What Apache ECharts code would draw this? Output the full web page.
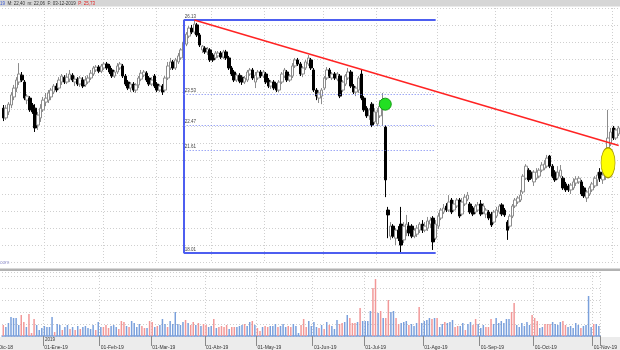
<!DOCTYPE html>
<html>
<head>
<meta charset="utf-8">
<script src="https://cdn.jsdelivr.net/npm/echarts@6/dist/echarts.min.js"></script>
<style>
html, body { margin: 0; padding: 0; background: #fff; }
#main { width: 620px; height: 350px; }
</style>
</head>
<body>
<div id="main"></div>
<script>
// velas diarias: [apertura, cierre, minimo, maximo]
var velas = [
    [23.06,22.72,22.61,23.17],[22.72,23.06,22.65,23.17],[22.93,23.20,22.82,23.27],[23.17,23.52,23.06,23.62],[23.45,23.76,23.34,23.87],
    [23.76,24.04,23.62,24.14],[23.97,24.25,23.87,24.63],[24.21,24.04,23.97,24.32],[23.97,23.41,23.34,24.04],[23.34,23.48,23.20,23.55],
    [23.41,23.00,22.93,23.48],[23.17,22.93,22.86,23.24],[23.06,22.37,22.23,23.20],[22.47,22.82,22.30,22.93],[22.72,23.06,22.58,23.20],
    [23.00,23.34,22.93,23.45],[23.27,23.41,23.13,23.59],[23.34,23.59,23.24,23.69],[23.45,23.69,23.34,23.76],[23.62,23.83,23.55,23.90],
    [23.83,23.69,23.62,23.93],[23.76,24.04,23.69,24.14],[23.97,24.18,23.87,24.25],[24.14,23.97,23.90,24.21],[23.97,24.14,23.90,24.28],
    [24.07,24.25,23.97,24.39],[24.21,24.04,23.97,24.28],[23.97,24.07,23.83,24.18],[24.07,23.90,23.83,24.14],[23.90,24.11,23.80,24.18],
    [24.04,23.83,23.76,24.14],[23.87,24.04,23.80,24.18],[23.97,24.11,23.90,24.21],[24.11,24.28,24.04,24.39],[24.25,24.46,24.18,24.53],
    [24.39,24.49,24.32,24.56],[24.49,24.35,24.28,24.56],[24.35,24.53,24.28,24.60],[24.46,24.60,24.39,24.67],[24.60,24.46,24.39,24.67],
    [24.53,24.32,24.25,24.60],[24.39,24.18,24.11,24.46],[24.18,24.32,24.11,24.39],[24.32,24.53,24.25,24.63],[24.46,24.60,24.39,24.67],
    [24.53,24.18,24.11,24.60],[24.18,23.90,23.83,24.25],[23.97,23.76,23.69,24.04],[23.76,23.90,23.62,23.97],[23.90,23.69,23.62,23.97],
    [23.69,23.87,23.59,23.93],[23.87,24.11,23.76,24.18],[24.07,24.28,24.00,24.39],[24.21,24.32,24.14,24.39],[24.28,24.04,23.97,24.35],
    [24.11,23.90,23.83,24.18],[23.90,24.04,23.83,24.14],[24.18,23.83,23.76,24.25],[23.90,23.69,23.62,23.97],[23.69,23.83,23.62,23.90],
    [23.83,23.62,23.52,23.90],[23.69,24.11,23.62,24.18],[24.11,24.53,24.04,24.67],[24.46,24.67,24.39,24.81],[24.67,24.46,24.39,24.74],
    [24.46,24.74,24.39,24.81],[24.67,24.88,24.60,24.98],[24.81,25.09,24.74,25.15],[25.02,25.36,24.95,25.43],[25.29,25.64,25.22,25.71],
    [25.57,25.85,25.50,25.92],[25.85,25.71,25.64,25.96],[25.71,25.99,25.64,26.13],[25.96,25.61,25.54,26.03],[25.61,25.26,25.19,25.68],
    [25.09,25.22,24.98,25.26],[25.15,25.02,24.95,25.22],[25.02,25.12,24.91,25.19],[25.09,24.74,24.67,25.15],[24.91,24.74,24.67,24.98],
    [24.81,24.98,24.74,25.05],[24.88,24.98,24.81,25.05],[24.98,24.84,24.77,25.05],[24.84,25.02,24.77,25.09],[25.02,24.81,24.74,25.09],
    [24.81,24.46,24.39,24.88],[24.46,24.25,24.18,24.53],[24.32,24.04,23.97,24.39],[24.04,24.21,23.97,24.28],[24.21,24.00,23.93,24.28],
    [24.14,23.97,23.87,24.21],[23.97,24.11,23.90,24.18],[24.04,24.32,23.97,24.39],[24.25,24.39,24.18,24.46],[24.39,24.11,24.04,24.46],
    [23.97,24.21,23.76,24.32],[24.11,24.32,24.04,24.39],[24.32,24.18,24.11,24.39],[24.18,24.32,24.11,24.39],[24.25,23.97,23.90,24.32],
    [24.04,23.83,23.76,24.11],[23.83,23.97,23.73,24.04],[23.97,23.76,23.69,24.04],[23.87,23.69,23.62,23.93],[23.69,23.97,23.62,24.04],
    [23.97,24.25,23.90,24.32],[24.18,24.39,24.11,24.46],[24.32,24.04,23.97,24.39],[24.04,24.18,23.97,24.25],[24.18,24.53,24.11,24.63],
    [24.53,24.74,24.46,24.81],[24.74,24.60,24.53,24.81],[24.60,24.25,24.18,24.67],[24.25,24.46,24.14,24.53],[24.46,24.67,24.39,24.74],
    [24.60,24.81,24.53,24.91],[24.74,24.46,24.39,24.81],[24.39,23.69,23.62,24.46],[23.69,23.48,23.34,23.76],[23.41,23.59,23.24,23.69],
    [23.48,23.69,23.20,23.76],[23.76,24.11,23.69,24.18],[24.11,24.39,24.04,24.49],[24.39,24.18,24.11,24.46],[24.11,24.25,24.04,24.32],
    [24.25,24.11,24.04,24.32],[24.07,24.25,24.00,24.32],[24.18,23.48,23.41,24.25],[23.69,23.97,23.62,24.04],[23.90,24.18,23.83,24.25],
    [24.11,24.32,24.04,24.46],[24.32,23.83,23.76,24.39],[23.83,23.62,23.55,23.90],[23.62,23.76,23.48,23.83],[23.69,24.11,23.59,24.18],
    [24.25,23.41,23.34,24.39],[23.41,23.00,22.93,23.48],[23.06,22.79,22.72,23.13],[22.79,23.00,22.65,23.06],[23.20,22.47,22.40,23.27],
    [22.58,22.93,22.51,23.06],[22.51,22.93,22.44,23.06],[22.79,23.13,22.72,23.34],[23.00,23.20,22.44,23.59],[22.40,20.56,19.96,22.47],
    [19.51,19.34,18.53,19.62],[18.60,18.95,18.47,19.09],[18.95,18.60,18.53,19.02],[18.53,18.81,18.29,18.88],[18.81,18.53,18.43,18.95],
    [19.02,18.29,18.01,19.62],[18.47,18.95,18.36,19.09],[18.81,19.02,18.60,19.34],[18.95,18.71,18.60,19.09],[18.95,18.60,18.53,19.02],
    [18.60,18.81,18.53,18.88],[18.67,18.88,18.57,18.99],[18.81,19.02,18.71,19.09],[19.02,18.81,18.71,19.16],[18.81,18.95,18.74,19.09],
    [18.88,19.13,18.78,19.27],[19.02,19.16,18.88,19.27],[19.23,18.40,18.12,19.30],[18.53,19.02,18.47,19.16],[18.95,19.30,18.85,19.41],
    [19.23,19.51,19.16,19.58],[19.44,19.58,19.37,19.72],[19.65,19.51,19.44,19.75],[19.51,19.79,19.44,20.03],[19.86,19.44,19.37,19.93],
    [19.51,19.72,19.44,19.86],[19.65,19.86,19.58,19.93],[19.86,19.30,19.23,19.93],[19.37,19.79,19.30,19.93],[19.72,19.96,19.65,20.07],
    [19.89,20.03,19.82,20.14],[19.72,19.44,19.37,19.79],[19.58,19.37,19.30,19.65],[19.44,19.65,19.37,19.72],[19.51,19.69,19.44,19.79],
    [19.72,19.37,19.30,19.86],[19.44,19.65,19.37,19.75],[19.37,19.51,19.23,19.58],[19.44,19.23,19.16,19.51],[19.37,18.99,18.92,19.44],
    [19.09,19.44,19.02,19.51],[19.30,19.51,19.23,19.62],[19.44,19.65,19.37,19.72],[19.69,19.37,19.30,19.75],[19.51,19.34,19.27,19.58],
    [19.09,18.81,18.47,19.16],[18.95,19.30,18.88,19.37],[19.30,19.65,19.23,19.72],[19.65,19.86,19.58,19.93],[19.79,19.93,19.72,20.00],
    [19.86,20.03,19.79,20.21],[20.14,20.69,20.07,20.76],[20.62,21.04,20.56,21.11],[20.90,20.56,20.49,20.97],[20.83,20.62,20.56,20.90],
    [20.49,20.83,20.35,20.90],[20.62,20.83,20.56,20.97],[20.69,20.90,20.62,20.97],[20.90,21.08,20.83,21.18],[20.97,21.11,20.90,21.25],
    [21.04,21.32,20.97,21.43],[21.39,21.04,20.97,21.43],[21.04,20.69,20.62,21.11],[20.83,20.56,20.49,20.90],[20.62,20.83,20.56,21.04],
    [20.69,20.90,20.62,21.08],[20.62,20.28,20.21,20.69],[20.42,20.21,20.14,20.49],[20.35,20.21,20.14,20.42],[20.21,20.38,20.07,20.45],
    [20.28,20.49,20.21,20.62],[20.45,20.59,20.35,20.69],[20.49,20.62,20.42,20.69],[20.49,20.07,20.00,20.56],[20.28,20.00,19.93,20.35],
    [19.93,20.14,19.79,20.21],[20.07,20.28,20.00,20.35],[20.21,20.42,20.14,20.49],[20.35,20.62,20.28,20.69],[20.56,20.73,20.35,20.83],
    [20.83,20.62,20.49,20.97],[20.56,20.73,20.42,20.83],[20.69,20.97,20.56,21.08],[20.90,22.02,20.69,23.00],[21.81,22.23,21.74,22.37],
    [22.37,22.02,21.95,22.44],[22.02,22.30,21.95,22.37],[22.16,22.37,22.09,22.44]
];
var volumen = [
    11, 9, 13, 19, 18, 18, 11, 21, 14, 9, 22, 3, 17, 11, 6, 8, 10, 9, 9, 19,
    4, 12, 11, 6, 9, 11, 7, 9, 6, 10, 7, 9, 10, 8, 7, 11, 6, 14, 9, 9,
    11, 8, 10, 11, 9, 7, 15, 14, 10, 9, 15, 13, 9, 12, 10, 8, 8, 15, 14, 9,
    10, 11, 17, 12, 9, 15, 12, 24, 12, 11, 14, 16, 13, 11, 14, 11, 13, 10, 12, 11,
    9, 10, 17, 8, 9, 10, 9, 11, 7, 9, 9, 9, 10, 11, 12, 10, 14, 15, 11, 8,
    5, 9, 10, 9, 10, 10, 12, 9, 10, 12, 9, 10, 9, 12, 10, 3, 11, 17, 9, 15,
    10, 14, 9, 8, 11, 7, 14, 11, 10, 7, 16, 12, 13, 14, 21, 18, 13, 13, 14, 28,
    15, 15, 15, 25, 48, 57, 23, 25, 18, 18, 36, 24, 25, 18, 12, 13, 14, 15, 11, 12,
    10, 13, 29, 13, 15, 16, 18, 17, 18, 18, 9, 12, 14, 13, 14, 16, 9, 10, 10, 13,
    6, 12, 14, 11, 17, 12, 8, 11, 9, 9, 17, 12, 18, 13, 15, 13, 17, 17, 24, 33,
    11, 9, 13, 10, 14, 11, 21, 18, 15, 8, 9, 12, 12, 12, 14, 12, 11, 14, 15, 11,
    9, 10, 8, 13, 11, 8, 10, 11, 40, 9, 12, 12, 10
];
// primer dia de cada mes (posicion en la serie) y su etiqueta
var mesesIdx = [16, 38, 58, 79, 99, 121, 141, 164, 186, 207, 230];
var mesesTxt = ['01-Ene-19', '01-Feb-19', '01-Mar-19', '01-Abr-19', '01-May-19', '01-Jun-19',
    '01-Jul-19', '01-Ago-19', '01-Sep-19', '01-Oct-19', '01-Nov-19'];
// retroceso dibujado (niveles) y su tramo
var niveles = [26.13, 23.53, 22.47, 21.61, 18.01];
var nivelDesde = 68, nivelHasta = 163;
// directriz bajista
var directriz = [[72, 26.13], [232, 21.76]];
var marcaVerde = [144, 23.20];
var marcaAmarilla = [228, 21.16];

var dias = velas.map(function (v, i) { return i; });

function esMes(index) {
    return mesesIdx.indexOf(index) !== -1;
}

var azul = '#4d5ef0';
var lineas = [];
// lado izquierdo del marco
lineas.push([
    {coord: [nivelDesde, niveles[0]], lineStyle: {color: azul, width: 2, type: 'solid'}, label: {show: false}},
    {coord: [nivelDesde, niveles[niveles.length - 1]]}
]);
niveles.forEach(function (v, i) {
    var borde = (i == 0 || i == niveles.length - 1);
    lineas.push([
        {
            coord: [nivelDesde, v],
            lineStyle: borde ? {color: azul, width: 2, type: 'solid'} : {color: '#6f7ff2', width: 1, type: [1, 2]},
            label: {show: true, position: 'insideStartTop', formatter: v.toFixed(2), fontSize: 4.5, color: '#444', distance: 1, padding: 0}
        },
        {coord: [nivelHasta, v]}
    ]);
});
lineas.push([
    {coord: directriz[0], lineStyle: {color: '#ff2323', width: 1.5, type: 'solid'}, label: {show: false}},
    {coord: directriz[1]}
]);

// azul si la vela sube, rojo si baja
var volData = volumen.map(function (v, i) {
    var sube = velas[i][1] >= velas[i][0];
    return {value: v, itemStyle: {color: sube ? '#7aa0dc' : '#f29898'}};
});

var grid = '#cfcfcf';
var chart = echarts.init(document.getElementById('main'));
var option = {
    animation: false,
    backgroundColor: '#fff',
    grid: [
        {left: 2, width: 621, top: 8, height: 254},
        {left: 2, width: 621, top: 272, height: 64}
    ],
    xAxis: [
        {
            type: 'category', gridIndex: 0, data: dias, boundaryGap: true,
            axisLine: {show: false}, axisTick: {show: false}, axisLabel: {show: false},
            splitLine: {show: true, interval: function (index) { return esMes(index); },
                lineStyle: {color: grid, type: [1, 2]}}
        },
        {
            type: 'category', gridIndex: 1, data: dias, boundaryGap: true,
            axisLine: {show: true, lineStyle: {color: '#7d9fd8', width: 1.5}},
            axisTick: {show: true, length: 10, interval: function (index) { return esMes(index); },
                lineStyle: {color: '#8a8a8a'}},
            axisLabel: {
                show: true, interval: function (index) { return esMes(index); },
                formatter: function (value, index) {
                    var k = mesesIdx.indexOf(Number(value));
                    return k === -1 ? '' : mesesTxt[k];
                },
                align: 'left', margin: 9, fontSize: 5, color: '#333', fontFamily: 'Liberation Sans'
            },
            splitLine: {show: true, interval: function (index) { return esMes(index); },
                lineStyle: {color: grid, type: [1, 2]}}
        }
    ],
    yAxis: [
        {
            type: 'value', gridIndex: 0, min: 17.70, max: 26.55, interval: 0.59,
            axisLine: {show: false}, axisTick: {show: false}, axisLabel: {show: false},
            splitLine: {show: true, lineStyle: {color: grid, type: [1, 2]}}
        },
        {
            type: 'value', gridIndex: 1, min: 0, max: 64, interval: 12,
            axisLine: {show: false}, axisTick: {show: false}, axisLabel: {show: false},
            splitLine: {show: true, lineStyle: {color: grid, type: [1, 2]}}
        }
    ],
    series: [
        {
            type: 'candlestick', xAxisIndex: 0, yAxisIndex: 0, data: velas, barWidth: 3,
            itemStyle: {color: '#ffffff', color0: '#000000', borderColor: '#8c8c8c', borderColor0: '#000000', borderWidth: 1},
            markLine: {silent: true, symbol: ['none', 'none'], animation: false, data: lineas}
        },
        {
            type: 'scatter', xAxisIndex: 0, yAxisIndex: 0, data: [marcaVerde], symbolSize: 12, z: 5,
            itemStyle: {color: '#22e022', borderColor: '#129c12', borderWidth: 1, opacity: 1}
        },
        {
            type: 'scatter', xAxisIndex: 0, yAxisIndex: 0, data: [marcaAmarilla], symbolSize: [14, 30], z: 5,
            itemStyle: {color: '#ffff00', borderColor: '#a89a00', borderWidth: 1, opacity: 1}
        },
        {
            type: 'bar', xAxisIndex: 1, yAxisIndex: 1, data: volData, barWidth: 1.5
        }
    ],
    graphic: [
        {type: 'rect', shape: {x: 0, y: 0, width: 620, height: 6.5}, style: {fill: '#d6d6d6'}, z: 10},
        {
            type: 'text', x: 0, y: 3.5, z: 11,
            style: {
                text: '{a|19}  {b|M: 22,40  m: 22,06  F: 03-12-2019}  {c|P: 25,73}',
                fontSize: 4.5, fontFamily: 'Liberation Sans', fill: '#333',
                verticalAlign: 'middle', textVerticalAlign: 'middle',
                rich: {a: {fill: '#3a58d0', fontSize: 4.5}, b: {fill: '#333', fontSize: 4.5}, c: {fill: '#e02020', fontSize: 4.5}}
            }
        },
        {type: 'rect', shape: {x: 0, y: 268.5, width: 620, height: 2.5}, style: {fill: '#b2b2b2'}, z: 10},
        {type: 'rect', shape: {x: 0, y: 337, width: 620, height: 13}, style: {fill: '#ececec'}, z: -1},
        {
            type: 'text', x: 0, y: 263, z: 11,
            style: {text: 'com', fontSize: 5, fontFamily: 'Liberation Sans', fill: '#9a9ad2',
                verticalAlign: 'middle', textVerticalAlign: 'middle'}
        },
        {
            type: 'text', x: 45, y: 339.5, z: 11,
            style: {text: '2019', fontSize: 4.5, fontFamily: 'Liberation Sans', fill: '#333',
                verticalAlign: 'middle', textVerticalAlign: 'middle'}
        },
        {
            type: 'text', x: 13, y: 347.5, z: 11,
            style: {text: '01-Dic-18', fontSize: 5, fontFamily: 'Liberation Sans', fill: '#333',
                align: 'right', textAlign: 'right', verticalAlign: 'middle', textVerticalAlign: 'middle'}
        }
    ]
};
chart.setOption(option);
</script>
</body>
</html>
